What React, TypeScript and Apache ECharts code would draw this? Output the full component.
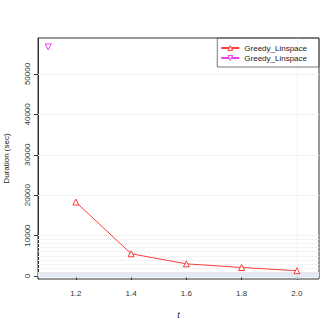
import React, { useEffect, useRef } from "react";
import * as echarts from "echarts";

const tValues = [1.2, 1.4, 1.6, 1.8, 2.0];
const greedyDurations = [18300, 5500, 3000, 2100, 1300];
const outlierPoint = [[1.1, 56700]];
const xTicks = [1.2, 1.4, 1.6, 1.8, 2.0];
const yTicks = [0, 10000, 20000, 30000, 40000, 50000];
const fineBand = [-350, 1000];
const midGrid = [1000, 2000, 3000, 4000, 5000, 6000, 7000, 8000, 9000];
const coarseGrid = [10000, 20000, 30000, 40000, 50000];
const verticalGrid = [2.0];
const seriesNames = ["Greedy_Linspace", "Greedy_Linspace"];

const RED = "#ff3b3b";
const MAGENTA = "#f03cf0";
const FONT = "Liberation Sans, Arial, sans-serif";

export default function App() {
  const ref = useRef<HTMLDivElement>(null);
  useEffect(() => {
    if (!ref.current) return;
    const chart = echarts.init(ref.current, undefined, { renderer: "svg" });
    const gridLines = [
      ...midGrid.map((v) => ({ yAxis: v, lineStyle: { color: "#e8e8e8", type: "dotted", width: 1 } })),
      ...coarseGrid.map((v) => ({ yAxis: v, lineStyle: { color: "#e4e4e4", type: "dotted", width: 1 } })),
      ...verticalGrid.map((v) => ({ xAxis: v, lineStyle: { color: "#ececec", type: "dotted", width: 1 } })),
    ];
    const name2 = seriesNames[1] + " ";
    chart.setOption({
      animation: false,
      backgroundColor: "#fff",
      grid: {
        left: 38,
        right: 8,
        top: 38,
        bottom: 48,
        show: true,
        borderColor: "#333",
        borderWidth: 1,
        outerBoundsMode: "none",
      },
      legend: {
        right: 8,
        top: 38,
        orient: "vertical",
        borderColor: "#555",
        borderWidth: 0.8,
        borderRadius: 0,
        padding: [6, 12, 5, 3],
        itemGap: 2,
        itemWidth: 18,
        itemHeight: 6,
        textStyle: { fontSize: 8, color: "#222", fontFamily: FONT },
        formatter: (n: string) => n.trim(),
        data: [
          { name: seriesNames[0], itemStyle: { color: "#fff", borderColor: RED, borderWidth: 1 } },
          { name: name2, itemStyle: { color: "#fff", borderColor: MAGENTA, borderWidth: 1 } },
        ],
      },
      xAxis: {
        type: "value",
        min: 1.063,
        max: 2.08,
        name: "t",
        nameLocation: "middle",
        nameGap: 31,
        nameTextStyle: { fontStyle: "italic", fontSize: 9, color: "#222", fontFamily: FONT },
        axisLine: { show: true, lineStyle: { color: "#333" } },
        axisTick: { show: true, length: 4, customValues: xTicks, lineStyle: { color: "#333" } },
        axisLabel: {
          customValues: xTicks,
          formatter: (v: number) => v.toFixed(1),
          fontSize: 8,
          color: "#333",
          margin: 10,
          fontFamily: FONT,
        },
        splitLine: { show: false },
      },
      yAxis: {
        type: "value",
        min: -750,
        max: 58900,
        name: "Duration (sec)",
        nameLocation: "middle",
        nameGap: 28,
        nameRotate: 90,
        nameTextStyle: { fontSize: 8, color: "#222", fontFamily: FONT },
        axisLine: { show: true, lineStyle: { color: "#333" } },
        axisTick: { show: true, length: 4, customValues: yTicks, lineStyle: { color: "#333" } },
        axisLabel: {
          customValues: yTicks,
          formatter: (v: number) => String(v),
          rotate: 90,
          fontSize: 8,
          color: "#333",
          margin: 7,
          fontFamily: FONT,
        },
        splitLine: { show: false },
      },
      series: [
        {
          name: seriesNames[0],
          type: "line",
          data: tValues.map((t, i) => [t, greedyDurations[i]]),
          symbol: "triangle",
          symbolSize: 6,
          lineStyle: { color: RED, width: 1 },
          itemStyle: { color: "#fff", borderColor: RED, borderWidth: 1 },
          z: 3,
          markLine: {
            silent: true,
            symbol: ["none", "none"],
            label: { show: false },
            data: gridLines,
            z: 1,
          },
          markArea: {
            silent: true,
            itemStyle: { color: "#e2e9f5" },
            label: { show: false },
            data: [[{ yAxis: fineBand[0] }, { yAxis: fineBand[1] }]],
            z: 1,
          },
        },
        {
          name: name2,
          type: "line",
          data: outlierPoint,
          symbol: "triangle",
          symbolRotate: 180,
          symbolSize: 6,
          lineStyle: { color: MAGENTA, width: 1 },
          itemStyle: { color: "#fff", borderColor: MAGENTA, borderWidth: 1 },
          z: 3,
        },
      ],
    });
    return () => chart.dispose();
  }, []);
  return (
    <div
      ref={ref}
      style={{ position: "fixed", left: 0, top: 0, width: 327, height: 327 }}
    />
  );
}
